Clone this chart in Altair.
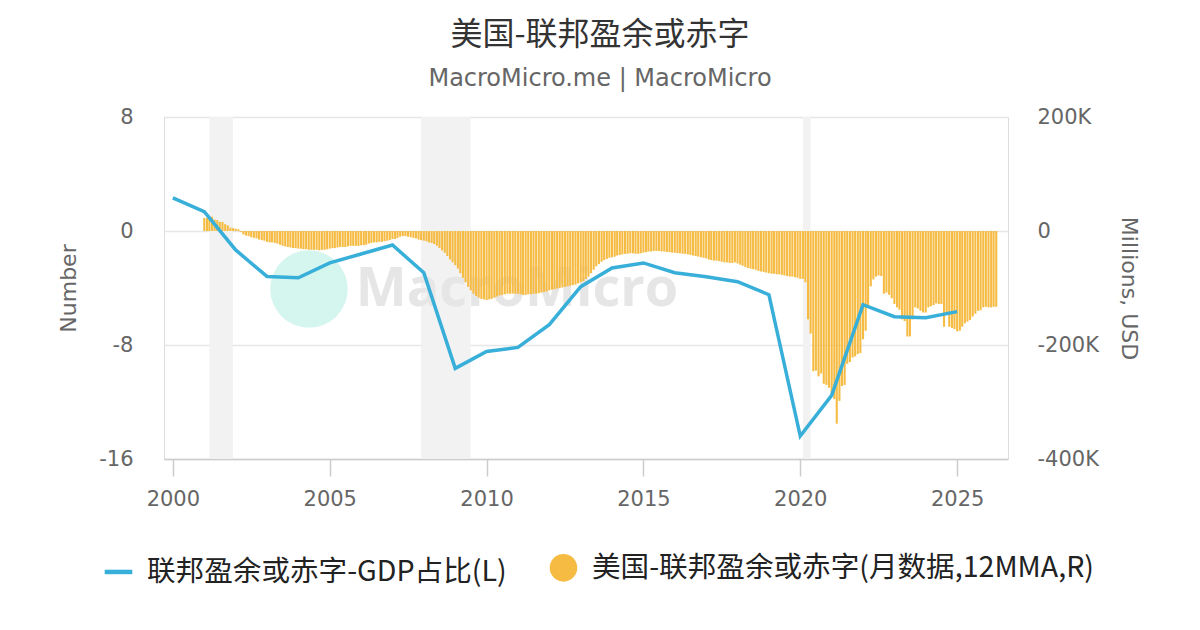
import altair as alt
import pandas as pd

# ---------------- data ----------------
LINE_NAME = "联邦盈余或赤字-GDP占比(L)"
BAR_NAME = "美国-联邦盈余或赤字(月数据,12MMA,R)"

line_years = list(range(2000, 2026))
line_values = [2.33, 1.35, -1.33, -3.19, -3.28, -2.24, -1.61, -0.98, -2.93, -9.64,
               -8.45, -8.17, -6.57, -3.91, -2.59, -2.24, -2.93, -3.21, -3.56, -4.47,
               -14.39, -11.53, -5.17, -6.01, -6.08, -5.66]

bar_first_month = "2001-01-01"
# monthly, thousands of millions USD (K), 12-month moving average
bar_values = [
    23, 23, 25, 25, 20, 19, 16, 16, 12, 10, 6, 5,                              # 2001
    4, 3, -2, -6, -8, -9, -11, -12, -13, -15, -16, -17,                        # 2002
    -19, -20, -20, -21, -22, -24, -26, -27, -28, -29, -30, -30,                # 2003
    -31, -31, -32, -32, -33, -33, -33, -33, -34, -33, -33, -32,                # 2004
    -31, -30, -30, -29, -28, -28, -28, -27, -26, -26, -26, -26,                # 2005
    -25, -25, -24, -22, -21, -20, -20, -19, -19, -18, -17, -16,                # 2006
    -14, -14, -12, -10, -9, -9, -10, -11, -12, -13, -15, -16,                  # 2007
    -17, -18, -20, -21, -23, -26, -30, -34, -38, -44, -50, -55,                # 2008
    -60, -66, -74, -82, -90, -98, -104, -110, -114, -117, -119, -120,          # 2009
    -121, -120, -119, -117, -115, -113, -112, -111, -110, -110, -110, -110,    # 2010
    -110, -111, -112, -112, -111, -111, -110, -110, -109, -108, -107, -106,    # 2011
    -104, -103, -102, -101, -100, -99, -98, -97, -96, -95, -94, -92,           # 2012
    -90, -88, -84, -80, -74, -68, -62, -58, -54, -51, -49, -47,                # 2013
    -46, -45, -43, -42, -41, -40, -40, -39, -39, -40, -40, -39,                # 2014
    -38, -37, -36, -36, -35, -35, -35, -36, -36, -37, -37, -38,                # 2015
    -38, -39, -39, -40, -40, -41, -42, -43, -44, -45, -46, -47,                # 2016
    -48, -50, -51, -52, -52, -53, -54, -55, -55, -56, -56, -55,                # 2017
    -57, -59, -61, -63, -65, -66, -67, -68, -70, -71, -72, -73,                # 2018
    -74, -75, -75, -76, -76, -77, -78, -79, -80, -80, -81, -82,                # 2019
    -84, -84, -90, -155, -180, -246, -245, -255, -250, -268, -270, -275,       # 2020
    -290, -295, -338, -298, -272, -270, -233, -230, -222, -220, -216, -214,    # 2021
    -190, -175, -135, -97, -85, -80, -78, -79, -110, -108, -112, -118,         # 2022
    -128, -134, -138, -155, -158, -185, -185, -155, -134, -136, -140, -143,    # 2023
    -143, -134, -132, -130, -127, -128, -128, -168, -147, -168, -170, -172,    # 2024
    -176, -175, -168, -162, -159, -156, -150, -145, -140, -139, -134, -133,    # 2025
    -134, -134, -133, -133,                                                    # 2026
]

recession_start = ["2001-03-01", "2007-12-01", "2020-02-01"]
recession_end = ["2001-11-30", "2009-06-30", "2020-04-30"]

x_tick_years = [2000, 2005, 2010, 2015, 2020, 2025]
left_ticks = [-16, -8, 0, 8]
right_ticks = [-400, -200, 0, 200]

# ---------------- tables ----------------
months = pd.date_range(bar_first_month, periods=len(bar_values), freq="MS")
bars_df = pd.DataFrame({"date": months.strftime("%Y-%m-%d"), "value": bar_values})
line_df = pd.DataFrame({"date": [f"{y}-01-01" for y in line_years], "value": line_values})
rec_df = pd.DataFrame({"start": recession_start, "end": recession_end})
legend_df = pd.DataFrame({"series": [LINE_NAME, BAR_NAME],
                          "date": ["1990-01-01", "1990-01-01"], "value": [0, 0]})
mark_df = pd.DataFrame({"label": ["MacroMicro"]})

LINE_COLOR = "#38afd9"
BAR_COLOR = "#f6bb43"
AXIS_FONT = "DejaVu Sans"
CJK_FONT = "Noto Sans CJK SC"

x_scale = alt.Scale(
    type="utc", padding=0,
    domain=[alt.DateTime(year=1999, month=9, date=20, utc=True),
            alt.DateTime(year=2026, month=8, date=16, utc=True)],
)
x_axis = alt.Axis(
    values=[alt.DateTime(year=y, month=1, date=1, utc=True) for y in x_tick_years],
    format="%Y", title=None, grid=False,
    labelFont=AXIS_FONT, labelFontSize=21, labelColor="#666666",
    tickColor="#cccccc", tickWidth=1.5, tickSize=17,
    domainColor="#cccccc", domainWidth=1.5, labelPadding=12,
)

left_scale = alt.Scale(domain=[-16, 8], nice=False)
left_axis = alt.Axis(
    orient="left", values=left_ticks, title="Number", grid=True,
    labelExpr="'' + datum.value",
    gridColor="#e6e6e6", gridWidth=1.5, domain=False, ticks=False,
    labelFont=AXIS_FONT, labelFontSize=21, labelColor="#666666", labelPadding=31,
    titleFont=AXIS_FONT, titleFontSize=22, titleColor="#666666",
    titleFontWeight="normal", titlePadding=18,
)
right_scale = alt.Scale(domain=[-400, 200], nice=False)
right_axis = alt.Axis(
    orient="right", values=right_ticks,
    labelExpr="datum.value == 0 ? '0' : datum.value + 'K'",
    title="Millions, USD", grid=False, domain=False, ticks=False,
    labelFont=AXIS_FONT, labelFontSize=21, labelColor="#666666", labelPadding=29,
    titleFont=AXIS_FONT, titleFontSize=22, titleColor="#666666",
    titleFontWeight="normal", titlePadding=18,
)

names = [LINE_NAME, BAR_NAME]
legend_def = alt.Legend(
    title=None, orient="none", legendX=-62, legendY=434, direction="horizontal",
    symbolSize=760, symbolStrokeWidth=4.5, symbolOpacity=1, labelFont=CJK_FONT,
    labelFontSize=28.6, labelColor="#222222", labelOffset=12, columnPadding=33,
    padding=0, labelLimit=1000,
)

# ---------------- layers ----------------
rect = alt.Chart(rec_df).mark_rect(color="#f2f2f2").encode(
    x=alt.X("start:T", scale=x_scale, axis=x_axis), x2="end:T"
)
logo = alt.Chart(mark_df).mark_point(
    shape="circle", filled=True, size=6000, color="#d5f5ef", opacity=1
).encode(x=alt.value(145), y=alt.value(172))
watermark = alt.Chart(mark_df).mark_text(
    font="Open Sans", fontWeight="bold", fontSize=54, color="#e6e6e6",
    align="center", baseline="middle"
).encode(x=alt.value(353), y=alt.value(173), text="label:N")
bars = alt.Chart(bars_df).mark_bar(size=2.1, color=BAR_COLOR).encode(
    x=alt.X("date:T", scale=x_scale, axis=x_axis),
    y=alt.Y("value:Q", scale=right_scale, axis=right_axis),
)
line = alt.Chart(line_df).mark_line(color=LINE_COLOR, strokeWidth=3.5).encode(
    x=alt.X("date:T", scale=x_scale, axis=x_axis),
    y=alt.Y("value:Q", scale=left_scale, axis=left_axis),
)
legend_pts = alt.Chart(legend_df).mark_point(clip=True, filled=True, opacity=1).encode(
    x=alt.X("date:T", scale=x_scale, axis=x_axis),
    y=alt.Y("value:Q", scale=left_scale, axis=left_axis),
    fill=alt.Fill("series:N", scale=alt.Scale(domain=names, range=[LINE_COLOR, BAR_COLOR]),
                  legend=legend_def),
    stroke=alt.Stroke("series:N", scale=alt.Scale(domain=names, range=[LINE_COLOR, "transparent"]),
                      legend=legend_def),
    shape=alt.Shape("series:N", scale=alt.Scale(domain=names, range=["stroke", "circle"]),
                    legend=legend_def),
)

right_group = alt.layer(rect, logo, watermark, bars)
left_group = alt.layer(line, legend_pts)

chart = alt.layer(right_group, left_group).resolve_scale(y="independent").properties(
    width=844, height=342,
    autosize=alt.AutoSizeParams(type="none"),
    padding={"left": 156, "top": 109, "right": 180, "bottom": 150},
    title=alt.TitleParams(
        text="美国-联邦盈余或赤字", subtitle="MacroMicro.me | MacroMicro",
        font=CJK_FONT, fontSize=32, fontWeight="normal", color="#333333",
        subtitleFont=AXIS_FONT, subtitleFontSize=24, subtitleColor="#666666",
        subtitlePadding=15, anchor="middle", frame="group", dx=14, offset=14,
    ),
).configure_view(stroke=None).configure(background="white")

chart.save("out.html", embed_options={"renderer": "svg", "actions": False})
